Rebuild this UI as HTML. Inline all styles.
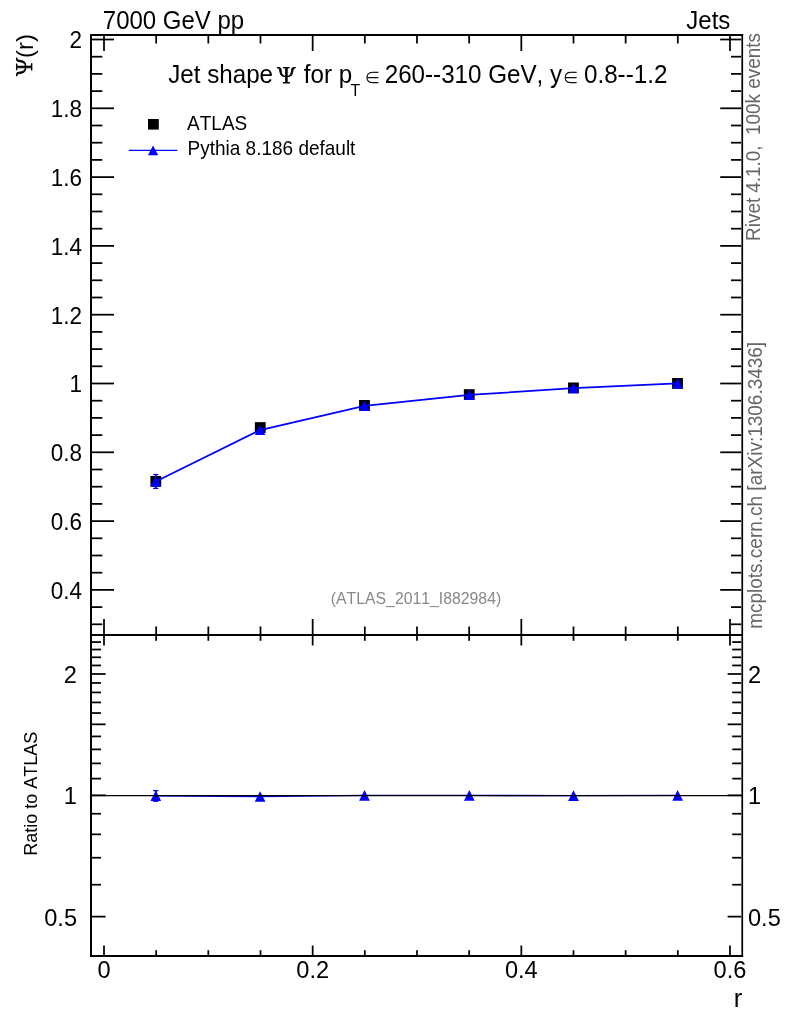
<!DOCTYPE html>
<html><head><meta charset="utf-8"><style>
html,body{margin:0;padding:0;background:#fff;}
svg{display:block;will-change:transform;font-kerning:none;font-family:"Liberation Sans",Arial,sans-serif;}
</style></head><body>
<svg width="786" height="1024" viewBox="0 0 786 1024">
<rect width="786" height="1024" fill="#fff"/>
<line x1="104.00" y1="36.00" x2="104.00" y2="51.00" stroke="#000" stroke-width="1.75"/>
<line x1="104.00" y1="634.00" x2="104.00" y2="619.00" stroke="#000" stroke-width="1.75"/>
<line x1="104.00" y1="636.00" x2="104.00" y2="645.50" stroke="#000" stroke-width="1.75"/>
<line x1="104.00" y1="955.00" x2="104.00" y2="945.50" stroke="#000" stroke-width="1.75"/>
<line x1="156.16" y1="36.00" x2="156.16" y2="43.50" stroke="#000" stroke-width="1.75"/>
<line x1="156.16" y1="634.00" x2="156.16" y2="626.50" stroke="#000" stroke-width="1.75"/>
<line x1="156.16" y1="636.00" x2="156.16" y2="640.80" stroke="#000" stroke-width="1.75"/>
<line x1="156.16" y1="955.00" x2="156.16" y2="950.20" stroke="#000" stroke-width="1.75"/>
<line x1="208.33" y1="36.00" x2="208.33" y2="43.50" stroke="#000" stroke-width="1.75"/>
<line x1="208.33" y1="634.00" x2="208.33" y2="626.50" stroke="#000" stroke-width="1.75"/>
<line x1="208.33" y1="636.00" x2="208.33" y2="640.80" stroke="#000" stroke-width="1.75"/>
<line x1="208.33" y1="955.00" x2="208.33" y2="950.20" stroke="#000" stroke-width="1.75"/>
<line x1="260.50" y1="36.00" x2="260.50" y2="43.50" stroke="#000" stroke-width="1.75"/>
<line x1="260.50" y1="634.00" x2="260.50" y2="626.50" stroke="#000" stroke-width="1.75"/>
<line x1="260.50" y1="636.00" x2="260.50" y2="640.80" stroke="#000" stroke-width="1.75"/>
<line x1="260.50" y1="955.00" x2="260.50" y2="950.20" stroke="#000" stroke-width="1.75"/>
<line x1="312.66" y1="36.00" x2="312.66" y2="51.00" stroke="#000" stroke-width="1.75"/>
<line x1="312.66" y1="634.00" x2="312.66" y2="619.00" stroke="#000" stroke-width="1.75"/>
<line x1="312.66" y1="636.00" x2="312.66" y2="645.50" stroke="#000" stroke-width="1.75"/>
<line x1="312.66" y1="955.00" x2="312.66" y2="945.50" stroke="#000" stroke-width="1.75"/>
<line x1="364.82" y1="36.00" x2="364.82" y2="43.50" stroke="#000" stroke-width="1.75"/>
<line x1="364.82" y1="634.00" x2="364.82" y2="626.50" stroke="#000" stroke-width="1.75"/>
<line x1="364.82" y1="636.00" x2="364.82" y2="640.80" stroke="#000" stroke-width="1.75"/>
<line x1="364.82" y1="955.00" x2="364.82" y2="950.20" stroke="#000" stroke-width="1.75"/>
<line x1="416.99" y1="36.00" x2="416.99" y2="43.50" stroke="#000" stroke-width="1.75"/>
<line x1="416.99" y1="634.00" x2="416.99" y2="626.50" stroke="#000" stroke-width="1.75"/>
<line x1="416.99" y1="636.00" x2="416.99" y2="640.80" stroke="#000" stroke-width="1.75"/>
<line x1="416.99" y1="955.00" x2="416.99" y2="950.20" stroke="#000" stroke-width="1.75"/>
<line x1="469.16" y1="36.00" x2="469.16" y2="43.50" stroke="#000" stroke-width="1.75"/>
<line x1="469.16" y1="634.00" x2="469.16" y2="626.50" stroke="#000" stroke-width="1.75"/>
<line x1="469.16" y1="636.00" x2="469.16" y2="640.80" stroke="#000" stroke-width="1.75"/>
<line x1="469.16" y1="955.00" x2="469.16" y2="950.20" stroke="#000" stroke-width="1.75"/>
<line x1="521.32" y1="36.00" x2="521.32" y2="51.00" stroke="#000" stroke-width="1.75"/>
<line x1="521.32" y1="634.00" x2="521.32" y2="619.00" stroke="#000" stroke-width="1.75"/>
<line x1="521.32" y1="636.00" x2="521.32" y2="645.50" stroke="#000" stroke-width="1.75"/>
<line x1="521.32" y1="955.00" x2="521.32" y2="945.50" stroke="#000" stroke-width="1.75"/>
<line x1="573.49" y1="36.00" x2="573.49" y2="43.50" stroke="#000" stroke-width="1.75"/>
<line x1="573.49" y1="634.00" x2="573.49" y2="626.50" stroke="#000" stroke-width="1.75"/>
<line x1="573.49" y1="636.00" x2="573.49" y2="640.80" stroke="#000" stroke-width="1.75"/>
<line x1="573.49" y1="955.00" x2="573.49" y2="950.20" stroke="#000" stroke-width="1.75"/>
<line x1="625.65" y1="36.00" x2="625.65" y2="43.50" stroke="#000" stroke-width="1.75"/>
<line x1="625.65" y1="634.00" x2="625.65" y2="626.50" stroke="#000" stroke-width="1.75"/>
<line x1="625.65" y1="636.00" x2="625.65" y2="640.80" stroke="#000" stroke-width="1.75"/>
<line x1="625.65" y1="955.00" x2="625.65" y2="950.20" stroke="#000" stroke-width="1.75"/>
<line x1="677.82" y1="36.00" x2="677.82" y2="43.50" stroke="#000" stroke-width="1.75"/>
<line x1="677.82" y1="634.00" x2="677.82" y2="626.50" stroke="#000" stroke-width="1.75"/>
<line x1="677.82" y1="636.00" x2="677.82" y2="640.80" stroke="#000" stroke-width="1.75"/>
<line x1="677.82" y1="955.00" x2="677.82" y2="950.20" stroke="#000" stroke-width="1.75"/>
<line x1="729.98" y1="36.00" x2="729.98" y2="51.00" stroke="#000" stroke-width="1.75"/>
<line x1="729.98" y1="634.00" x2="729.98" y2="619.00" stroke="#000" stroke-width="1.75"/>
<line x1="729.98" y1="636.00" x2="729.98" y2="645.50" stroke="#000" stroke-width="1.75"/>
<line x1="729.98" y1="955.00" x2="729.98" y2="945.50" stroke="#000" stroke-width="1.75"/>
<line x1="92.00" y1="624.30" x2="102.30" y2="624.30" stroke="#000" stroke-width="1.75"/>
<line x1="741.20" y1="624.30" x2="731.00" y2="624.30" stroke="#000" stroke-width="1.75"/>
<line x1="92.00" y1="607.10" x2="102.30" y2="607.10" stroke="#000" stroke-width="1.75"/>
<line x1="741.20" y1="607.10" x2="731.00" y2="607.10" stroke="#000" stroke-width="1.75"/>
<line x1="92.00" y1="589.90" x2="114.00" y2="589.90" stroke="#000" stroke-width="1.75"/>
<line x1="741.20" y1="589.90" x2="720.20" y2="589.90" stroke="#000" stroke-width="1.75"/>
<line x1="92.00" y1="572.70" x2="102.30" y2="572.70" stroke="#000" stroke-width="1.75"/>
<line x1="741.20" y1="572.70" x2="731.00" y2="572.70" stroke="#000" stroke-width="1.75"/>
<line x1="92.00" y1="555.50" x2="102.30" y2="555.50" stroke="#000" stroke-width="1.75"/>
<line x1="741.20" y1="555.50" x2="731.00" y2="555.50" stroke="#000" stroke-width="1.75"/>
<line x1="92.00" y1="538.30" x2="102.30" y2="538.30" stroke="#000" stroke-width="1.75"/>
<line x1="741.20" y1="538.30" x2="731.00" y2="538.30" stroke="#000" stroke-width="1.75"/>
<line x1="92.00" y1="521.10" x2="114.00" y2="521.10" stroke="#000" stroke-width="1.75"/>
<line x1="741.20" y1="521.10" x2="720.20" y2="521.10" stroke="#000" stroke-width="1.75"/>
<line x1="92.00" y1="503.90" x2="102.30" y2="503.90" stroke="#000" stroke-width="1.75"/>
<line x1="741.20" y1="503.90" x2="731.00" y2="503.90" stroke="#000" stroke-width="1.75"/>
<line x1="92.00" y1="486.70" x2="102.30" y2="486.70" stroke="#000" stroke-width="1.75"/>
<line x1="741.20" y1="486.70" x2="731.00" y2="486.70" stroke="#000" stroke-width="1.75"/>
<line x1="92.00" y1="469.50" x2="102.30" y2="469.50" stroke="#000" stroke-width="1.75"/>
<line x1="741.20" y1="469.50" x2="731.00" y2="469.50" stroke="#000" stroke-width="1.75"/>
<line x1="92.00" y1="452.30" x2="114.00" y2="452.30" stroke="#000" stroke-width="1.75"/>
<line x1="741.20" y1="452.30" x2="720.20" y2="452.30" stroke="#000" stroke-width="1.75"/>
<line x1="92.00" y1="435.10" x2="102.30" y2="435.10" stroke="#000" stroke-width="1.75"/>
<line x1="741.20" y1="435.10" x2="731.00" y2="435.10" stroke="#000" stroke-width="1.75"/>
<line x1="92.00" y1="417.90" x2="102.30" y2="417.90" stroke="#000" stroke-width="1.75"/>
<line x1="741.20" y1="417.90" x2="731.00" y2="417.90" stroke="#000" stroke-width="1.75"/>
<line x1="92.00" y1="400.70" x2="102.30" y2="400.70" stroke="#000" stroke-width="1.75"/>
<line x1="741.20" y1="400.70" x2="731.00" y2="400.70" stroke="#000" stroke-width="1.75"/>
<line x1="92.00" y1="383.50" x2="114.00" y2="383.50" stroke="#000" stroke-width="1.75"/>
<line x1="741.20" y1="383.50" x2="720.20" y2="383.50" stroke="#000" stroke-width="1.75"/>
<line x1="92.00" y1="366.30" x2="102.30" y2="366.30" stroke="#000" stroke-width="1.75"/>
<line x1="741.20" y1="366.30" x2="731.00" y2="366.30" stroke="#000" stroke-width="1.75"/>
<line x1="92.00" y1="349.10" x2="102.30" y2="349.10" stroke="#000" stroke-width="1.75"/>
<line x1="741.20" y1="349.10" x2="731.00" y2="349.10" stroke="#000" stroke-width="1.75"/>
<line x1="92.00" y1="331.90" x2="102.30" y2="331.90" stroke="#000" stroke-width="1.75"/>
<line x1="741.20" y1="331.90" x2="731.00" y2="331.90" stroke="#000" stroke-width="1.75"/>
<line x1="92.00" y1="314.70" x2="114.00" y2="314.70" stroke="#000" stroke-width="1.75"/>
<line x1="741.20" y1="314.70" x2="720.20" y2="314.70" stroke="#000" stroke-width="1.75"/>
<line x1="92.00" y1="297.50" x2="102.30" y2="297.50" stroke="#000" stroke-width="1.75"/>
<line x1="741.20" y1="297.50" x2="731.00" y2="297.50" stroke="#000" stroke-width="1.75"/>
<line x1="92.00" y1="280.30" x2="102.30" y2="280.30" stroke="#000" stroke-width="1.75"/>
<line x1="741.20" y1="280.30" x2="731.00" y2="280.30" stroke="#000" stroke-width="1.75"/>
<line x1="92.00" y1="263.10" x2="102.30" y2="263.10" stroke="#000" stroke-width="1.75"/>
<line x1="741.20" y1="263.10" x2="731.00" y2="263.10" stroke="#000" stroke-width="1.75"/>
<line x1="92.00" y1="245.90" x2="114.00" y2="245.90" stroke="#000" stroke-width="1.75"/>
<line x1="741.20" y1="245.90" x2="720.20" y2="245.90" stroke="#000" stroke-width="1.75"/>
<line x1="92.00" y1="228.70" x2="102.30" y2="228.70" stroke="#000" stroke-width="1.75"/>
<line x1="741.20" y1="228.70" x2="731.00" y2="228.70" stroke="#000" stroke-width="1.75"/>
<line x1="92.00" y1="211.50" x2="102.30" y2="211.50" stroke="#000" stroke-width="1.75"/>
<line x1="741.20" y1="211.50" x2="731.00" y2="211.50" stroke="#000" stroke-width="1.75"/>
<line x1="92.00" y1="194.30" x2="102.30" y2="194.30" stroke="#000" stroke-width="1.75"/>
<line x1="741.20" y1="194.30" x2="731.00" y2="194.30" stroke="#000" stroke-width="1.75"/>
<line x1="92.00" y1="177.10" x2="114.00" y2="177.10" stroke="#000" stroke-width="1.75"/>
<line x1="741.20" y1="177.10" x2="720.20" y2="177.10" stroke="#000" stroke-width="1.75"/>
<line x1="92.00" y1="159.90" x2="102.30" y2="159.90" stroke="#000" stroke-width="1.75"/>
<line x1="741.20" y1="159.90" x2="731.00" y2="159.90" stroke="#000" stroke-width="1.75"/>
<line x1="92.00" y1="142.70" x2="102.30" y2="142.70" stroke="#000" stroke-width="1.75"/>
<line x1="741.20" y1="142.70" x2="731.00" y2="142.70" stroke="#000" stroke-width="1.75"/>
<line x1="92.00" y1="125.50" x2="102.30" y2="125.50" stroke="#000" stroke-width="1.75"/>
<line x1="741.20" y1="125.50" x2="731.00" y2="125.50" stroke="#000" stroke-width="1.75"/>
<line x1="92.00" y1="108.30" x2="114.00" y2="108.30" stroke="#000" stroke-width="1.75"/>
<line x1="741.20" y1="108.30" x2="720.20" y2="108.30" stroke="#000" stroke-width="1.75"/>
<line x1="92.00" y1="91.10" x2="102.30" y2="91.10" stroke="#000" stroke-width="1.75"/>
<line x1="741.20" y1="91.10" x2="731.00" y2="91.10" stroke="#000" stroke-width="1.75"/>
<line x1="92.00" y1="73.90" x2="102.30" y2="73.90" stroke="#000" stroke-width="1.75"/>
<line x1="741.20" y1="73.90" x2="731.00" y2="73.90" stroke="#000" stroke-width="1.75"/>
<line x1="92.00" y1="56.70" x2="102.30" y2="56.70" stroke="#000" stroke-width="1.75"/>
<line x1="741.20" y1="56.70" x2="731.00" y2="56.70" stroke="#000" stroke-width="1.75"/>
<line x1="92.00" y1="39.50" x2="114.00" y2="39.50" stroke="#000" stroke-width="1.75"/>
<line x1="741.20" y1="39.50" x2="720.20" y2="39.50" stroke="#000" stroke-width="1.75"/>
<line x1="92.00" y1="916.62" x2="105.60" y2="916.62" stroke="#000" stroke-width="1.75"/>
<line x1="741.20" y1="916.62" x2="727.60" y2="916.62" stroke="#000" stroke-width="1.75"/>
<line x1="92.00" y1="884.71" x2="101.00" y2="884.71" stroke="#000" stroke-width="1.75"/>
<line x1="741.20" y1="884.71" x2="732.20" y2="884.71" stroke="#000" stroke-width="1.75"/>
<line x1="92.00" y1="857.73" x2="101.00" y2="857.73" stroke="#000" stroke-width="1.75"/>
<line x1="741.20" y1="857.73" x2="732.20" y2="857.73" stroke="#000" stroke-width="1.75"/>
<line x1="92.00" y1="834.35" x2="101.00" y2="834.35" stroke="#000" stroke-width="1.75"/>
<line x1="741.20" y1="834.35" x2="732.20" y2="834.35" stroke="#000" stroke-width="1.75"/>
<line x1="92.00" y1="813.74" x2="101.00" y2="813.74" stroke="#000" stroke-width="1.75"/>
<line x1="741.20" y1="813.74" x2="732.20" y2="813.74" stroke="#000" stroke-width="1.75"/>
<line x1="92.00" y1="795.30" x2="105.60" y2="795.30" stroke="#000" stroke-width="1.75"/>
<line x1="741.20" y1="795.30" x2="727.60" y2="795.30" stroke="#000" stroke-width="1.75"/>
<line x1="92.00" y1="778.62" x2="101.00" y2="778.62" stroke="#000" stroke-width="1.75"/>
<line x1="741.20" y1="778.62" x2="732.20" y2="778.62" stroke="#000" stroke-width="1.75"/>
<line x1="92.00" y1="763.39" x2="101.00" y2="763.39" stroke="#000" stroke-width="1.75"/>
<line x1="741.20" y1="763.39" x2="732.20" y2="763.39" stroke="#000" stroke-width="1.75"/>
<line x1="92.00" y1="749.38" x2="101.00" y2="749.38" stroke="#000" stroke-width="1.75"/>
<line x1="741.20" y1="749.38" x2="732.20" y2="749.38" stroke="#000" stroke-width="1.75"/>
<line x1="92.00" y1="736.41" x2="101.00" y2="736.41" stroke="#000" stroke-width="1.75"/>
<line x1="741.20" y1="736.41" x2="732.20" y2="736.41" stroke="#000" stroke-width="1.75"/>
<line x1="92.00" y1="724.34" x2="105.60" y2="724.34" stroke="#000" stroke-width="1.75"/>
<line x1="741.20" y1="724.34" x2="727.60" y2="724.34" stroke="#000" stroke-width="1.75"/>
<line x1="92.00" y1="713.04" x2="101.00" y2="713.04" stroke="#000" stroke-width="1.75"/>
<line x1="741.20" y1="713.04" x2="732.20" y2="713.04" stroke="#000" stroke-width="1.75"/>
<line x1="92.00" y1="702.43" x2="101.00" y2="702.43" stroke="#000" stroke-width="1.75"/>
<line x1="741.20" y1="702.43" x2="732.20" y2="702.43" stroke="#000" stroke-width="1.75"/>
<line x1="92.00" y1="692.43" x2="101.00" y2="692.43" stroke="#000" stroke-width="1.75"/>
<line x1="741.20" y1="692.43" x2="732.20" y2="692.43" stroke="#000" stroke-width="1.75"/>
<line x1="92.00" y1="682.96" x2="101.00" y2="682.96" stroke="#000" stroke-width="1.75"/>
<line x1="741.20" y1="682.96" x2="732.20" y2="682.96" stroke="#000" stroke-width="1.75"/>
<line x1="92.00" y1="673.98" x2="105.60" y2="673.98" stroke="#000" stroke-width="1.75"/>
<line x1="741.20" y1="673.98" x2="727.60" y2="673.98" stroke="#000" stroke-width="1.75"/>
<line x1="92.00" y1="665.45" x2="101.00" y2="665.45" stroke="#000" stroke-width="1.75"/>
<line x1="741.20" y1="665.45" x2="732.20" y2="665.45" stroke="#000" stroke-width="1.75"/>
<line x1="92.00" y1="657.30" x2="101.00" y2="657.30" stroke="#000" stroke-width="1.75"/>
<line x1="741.20" y1="657.30" x2="732.20" y2="657.30" stroke="#000" stroke-width="1.75"/>
<line x1="92.00" y1="649.52" x2="101.00" y2="649.52" stroke="#000" stroke-width="1.75"/>
<line x1="741.20" y1="649.52" x2="732.20" y2="649.52" stroke="#000" stroke-width="1.75"/>
<line x1="92.00" y1="642.07" x2="101.00" y2="642.07" stroke="#000" stroke-width="1.75"/>
<line x1="741.20" y1="642.07" x2="732.20" y2="642.07" stroke="#000" stroke-width="1.75"/>
<line x1="91.0" y1="34.0" x2="91.0" y2="957.0" stroke="#000" stroke-width="2"/>
<line x1="742.25" y1="34.0" x2="742.25" y2="957.0" stroke="#000" stroke-width="1.7"/>
<line x1="90.0" y1="35.0" x2="743.1" y2="35.0" stroke="#000" stroke-width="2"/>
<line x1="90.0" y1="956.0" x2="743.1" y2="956.0" stroke="#000" stroke-width="2"/>
<line x1="91.0" y1="635.0" x2="742.2" y2="635.0" stroke="#000" stroke-width="2"/>
<text transform="translate(82.00,598.70) scale(1,1.03)" font-size="22.5" text-anchor="end" >0.4</text>
<text transform="translate(82.00,529.90) scale(1,1.03)" font-size="22.5" text-anchor="end" >0.6</text>
<text transform="translate(82.00,461.10) scale(1,1.03)" font-size="22.5" text-anchor="end" >0.8</text>
<text transform="translate(82.00,392.30) scale(1,1.03)" font-size="22.5" text-anchor="end" >1</text>
<text transform="translate(82.00,323.50) scale(1,1.03)" font-size="22.5" text-anchor="end" >1.2</text>
<text transform="translate(82.00,254.70) scale(1,1.03)" font-size="22.5" text-anchor="end" >1.4</text>
<text transform="translate(82.00,185.90) scale(1,1.03)" font-size="22.5" text-anchor="end" >1.6</text>
<text transform="translate(82.00,117.10) scale(1,1.03)" font-size="22.5" text-anchor="end" >1.8</text>
<text transform="translate(82.00,48.30) scale(1,1.03)" font-size="22.5" text-anchor="end" >2</text>
<text transform="translate(77.00,925.72) scale(1,1.03)" font-size="23.6" text-anchor="end" >0.5</text>
<text transform="translate(748.00,925.72) scale(1,1.03)" font-size="23.6" text-anchor="start" >0.5</text>
<text transform="translate(77.00,804.40) scale(1,1.03)" font-size="23.6" text-anchor="end" >1</text>
<text transform="translate(748.00,804.40) scale(1,1.03)" font-size="23.6" text-anchor="start" >1</text>
<text transform="translate(77.00,683.08) scale(1,1.03)" font-size="23.6" text-anchor="end" >2</text>
<text transform="translate(748.00,683.08) scale(1,1.03)" font-size="23.6" text-anchor="start" >2</text>
<text transform="translate(104.00,978.40) scale(1,1.03)" font-size="23.6" text-anchor="middle" >0</text>
<text transform="translate(312.66,978.40) scale(1,1.03)" font-size="23.6" text-anchor="middle" >0.2</text>
<text transform="translate(521.32,978.40) scale(1,1.03)" font-size="23.6" text-anchor="middle" >0.4</text>
<text transform="translate(729.98,978.40) scale(1,1.03)" font-size="23.6" text-anchor="middle" >0.6</text>
<text transform="translate(742.30,1006.80) scale(1,1.0)" font-size="25.5" text-anchor="end" >r</text>
<text transform="translate(102.80,28.90) scale(1,1.05)" font-size="24" text-anchor="start" >7000 GeV pp</text>
<text transform="translate(730.30,28.60) scale(1,1.06)" font-size="24" text-anchor="end" >Jets</text>
<g font-size="24.2">
<text transform="translate(168.2,83) scale(1,1.035)">Jet shape</text>
<text x="277.6" y="82.8" font-size="21.5" font-family="'Noto Serif CJK SC', serif" stroke="#000" stroke-width="0.75">&#936;</text>
<text transform="translate(303.8,83) scale(1,1.035)">for p</text>
<text transform="translate(350.4,95.6) scale(1,1.035)" font-size="15.8">T</text>
<text transform="translate(364.6,83.6) scale(0.9,1)" font-size="17.6" font-family="'Noto Serif CJK SC', serif" stroke="#000" stroke-width="0.3">&#8712;</text>
<text transform="translate(384.7,83) scale(1,1.035)">260--310 GeV, y</text>
<text transform="translate(562.7,83.6) scale(0.9,1)" font-size="17.6" font-family="'Noto Serif CJK SC', serif" stroke="#000" stroke-width="0.3">&#8712;</text>
<text transform="translate(584,83) scale(1,1.035)">0.8--1.2</text>
</g>
<text transform="translate(32.8,75.8) rotate(-90)" font-size="24"><tspan font-size="21.5" dy="-1.3" font-family="'Noto Serif CJK SC', serif" stroke="#000" stroke-width="0.75">&#936;</tspan><tspan dy="1.3">(r)</tspan></text>
<text transform="translate(36.7,793.7) rotate(-90) scale(1,1.04)" font-size="18" text-anchor="middle">Ratio to ATLAS</text>
<text transform="translate(760,240.9) rotate(-90) scale(1,1.04)" font-size="18.9" fill="#666" xml:space="preserve">Rivet 4.1.0,  100k events</text>
<text transform="translate(762,628.8) rotate(-90) scale(1,1.03)" font-size="19" fill="#666">mcplots.cern.ch [arXiv:1306.3436]</text>
<text x="330.8" y="603.9" font-size="15.8" fill="#888">(ATLAS_2011_I882984)</text>
<rect x="148" y="119" width="10.8" height="10.6" fill="#000"/>
<text transform="translate(187.1,129.8) scale(1,1.035)" font-size="19">ATLAS</text>
<line x1="128.7" y1="150.4" x2="177.2" y2="150.4" stroke="#0000ff" stroke-width="1.3"/>
<path d="M153.10,145.60 L158.20,155.30 L148.00,155.30 Z" fill="#0000ff"/>
<text transform="translate(187.6,155.3) scale(1,1.03)" font-size="19">Pythia 8.186 default</text>
<rect x="150.40" y="476.00" width="10.8" height="10.8" fill="#000"/>
<rect x="254.85" y="422.15" width="10.8" height="10.8" fill="#000"/>
<rect x="359.10" y="400.00" width="10.8" height="10.8" fill="#000"/>
<rect x="463.85" y="389.20" width="10.8" height="10.8" fill="#000"/>
<rect x="568.05" y="382.50" width="10.8" height="10.8" fill="#000"/>
<rect x="672.10" y="378.00" width="10.8" height="10.8" fill="#000"/>
<polyline points="155.80,481.50 260.10,430.00 364.60,405.85 469.30,394.95 573.50,388.20 677.60,383.35" fill="none" stroke="#0000ff" stroke-width="1.8"/>
<line x1="155.8" y1="474.5" x2="155.8" y2="488.4" stroke="#0000ff" stroke-width="1.8"/>
<line x1="153.1" y1="474.5" x2="158.3" y2="474.5" stroke="#0000ff" stroke-width="1.2"/>
<line x1="153.1" y1="488.4" x2="158.3" y2="488.4" stroke="#0000ff" stroke-width="1.2"/>
<path d="M155.80,476.40 L161.10,486.60 L150.50,486.60 Z" fill="#0000ff"/>
<path d="M260.10,424.90 L265.40,435.10 L254.80,435.10 Z" fill="#0000ff"/>
<path d="M364.60,400.75 L369.90,410.95 L359.30,410.95 Z" fill="#0000ff"/>
<path d="M469.30,389.85 L474.60,400.05 L464.00,400.05 Z" fill="#0000ff"/>
<path d="M573.50,383.10 L578.80,393.30 L568.20,393.30 Z" fill="#0000ff"/>
<path d="M677.60,378.25 L682.90,388.45 L672.30,388.45 Z" fill="#0000ff"/>
<polyline points="155.80,795.70 260.10,796.50 364.50,795.40 469.30,795.40 573.50,795.60 677.65,795.40" fill="none" stroke="#0000ff" stroke-width="1.4"/>
<line x1="155.8" y1="790.6" x2="155.8" y2="801.3" stroke="#0000ff" stroke-width="1.8"/>
<line x1="153.1" y1="790.6" x2="158.3" y2="790.6" stroke="#0000ff" stroke-width="1.2"/>
<line x1="153.1" y1="801.3" x2="158.3" y2="801.3" stroke="#0000ff" stroke-width="1.2"/>
<path d="M155.80,790.40 L161.15,801.00 L150.45,801.00 Z" fill="#0000ff"/>
<path d="M260.10,791.20 L265.45,801.80 L254.75,801.80 Z" fill="#0000ff"/>
<path d="M364.50,790.10 L369.85,800.70 L359.15,800.70 Z" fill="#0000ff"/>
<path d="M469.30,790.10 L474.65,800.70 L463.95,800.70 Z" fill="#0000ff"/>
<path d="M573.50,790.30 L578.85,800.90 L568.15,800.90 Z" fill="#0000ff"/>
<path d="M677.65,790.10 L683.00,800.70 L672.30,800.70 Z" fill="#0000ff"/>
<line x1="91.0" y1="795.5" x2="742.2" y2="795.5" stroke="#000" stroke-width="1.25"/>
</svg>
</body></html>
